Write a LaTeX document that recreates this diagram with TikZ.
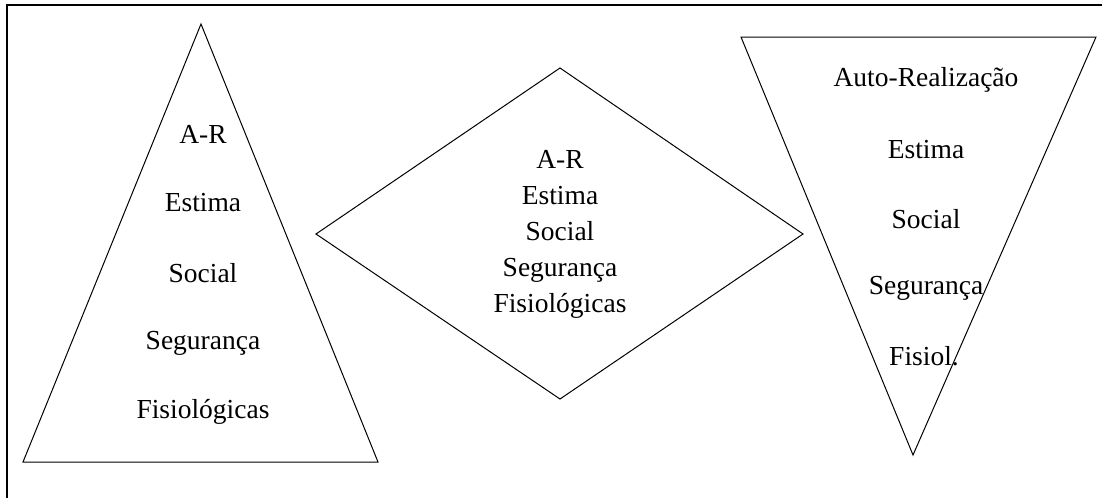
\documentclass[tikz,border=0pt]{standalone}
\usepackage{fontspec}
\setmainfont{Liberation Serif}
\begin{document}
\begin{tikzpicture}[x=1pt,y=-1pt,
  outline/.style={draw=black,line width=1pt,line join=miter},
  frameline/.style={draw=black,line width=1.3pt},
  lbl/.style={inner sep=0pt,font=\fontsize{27.5}{36}\selectfont,align=center}]
\useasboundingbox (0,0) rectangle (1102,498);
% page frame (top and left edges)
\coordinate (fTL) at (7,5);
\coordinate (fTR) at (1102,5);
\coordinate (fBL) at (7,498);
\draw[frameline] (fTR) -- (fTL) -- (fBL);

% upright pyramid
\coordinate (pA) at (201,24);
\coordinate (pL) at (23,462);
\coordinate (pR) at (378,462);
\draw[outline] (pA) -- (pR) -- (pL) -- cycle;
\node[lbl] (p1) at (203,134) {A-R};
\node[lbl] (p2) at (203,203) {Estima};
\node[lbl] (p3) at (203,273) {Social};
\node[lbl] (p4) at (203,343) {Segurança};
\node[lbl] (p5) at (203,412) {Fisiológicas};

% diamond
\coordinate (dT) at (560,68);
\coordinate (dR) at (803,234);
\coordinate (dB) at (560,399);
\coordinate (dL) at (316,234);
\draw[outline] (dT) -- (dR) -- (dB) -- (dL) -- cycle;
\node[lbl] (d1) at (560,234) {A-R\\Estima\\Social\\Segurança\\Fisiológicas};

% inverted pyramid
\coordinate (iL) at (741,37);
\coordinate (iR) at (1096,37);
\coordinate (iB) at (913,455);
\draw[outline] (iL) -- (iR) -- (iB) -- cycle;
\node[lbl] (i1) at (926,80) {Auto-Realização};
\node[lbl] (i2) at (926,150) {Estima};
\node[lbl] (i3) at (926,219) {Social};
\node[lbl] (i4) at (926,288) {Segurança};
\node[lbl] (i5) at (924,356) {Fisiol.};
\end{tikzpicture}
\end{document}
